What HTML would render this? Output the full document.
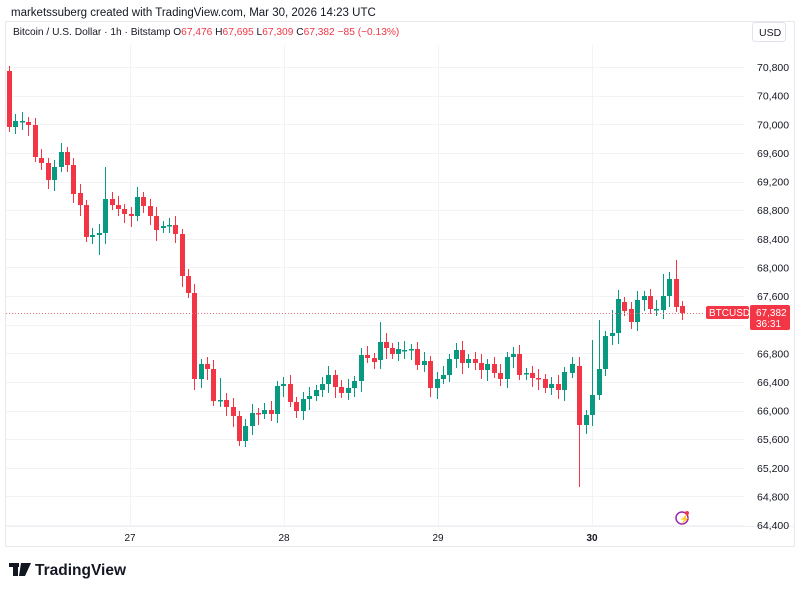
<!DOCTYPE html>
<html><head><style>
body{margin:0;background:#fff;width:800px;height:591px;overflow:hidden;font-family:"Liberation Sans",sans-serif;}
</style></head><body>
<svg width="800" height="591" xmlns="http://www.w3.org/2000/svg" font-family="Liberation Sans, sans-serif">
<text x="11" y="16" font-size="11.5" fill="#131722">marketssuberg created with TradingView.com, Mar 30, 2026 14:23 UTC</text>
<rect x="5.5" y="21.5" width="789" height="525" fill="#fff" stroke="#e6e8ee"/>
<text x="13" y="35" font-size="10.2" fill="#131722">Bitcoin / U.S. Dollar · 1h · Bitstamp  <tspan>O</tspan><tspan fill="#f23645">67,476</tspan> H<tspan fill="#f23645">67,695</tspan> L<tspan fill="#f23645">67,309</tspan> C<tspan fill="#f23645">67,382</tspan> <tspan fill="#f23645">−85 (−0.13%)</tspan></text>
<rect x="752.5" y="22.5" width="33" height="19" rx="3" fill="#fff" stroke="#e0e3eb"/>
<text x="759" y="36" font-size="10.5" fill="#131722">USD</text>
<g id="grid" stroke="#f2f3f6" stroke-width="1"></g>
<line x1="6" y1="526.5" x2="794" y2="526.5" stroke="#eef0f3"/>
<g font-size="10" fill="#131722" text-anchor="middle">
<text x="130" y="541">27</text><text x="284" y="541">28</text><text x="438" y="541">29</text><text x="592" y="541" font-weight="bold">30</text>
</g>
<g id="ylab" font-size="10.5" fill="#131722"></g>
<g id="candles"></g>
<line x1="6" y1="313.5" x2="705" y2="313.5" stroke="#e8707a" stroke-dasharray="1,2" stroke-width="1"/>
<rect x="706" y="306" width="43" height="13" rx="2" fill="#f23645"/>
<text x="709" y="316" font-size="10" fill="#fff">BTCUSD</text>
<rect x="750" y="305" width="40" height="25" rx="2" fill="#f23645"/>
<text x="756" y="316" font-size="10" fill="#fff">67,382</text>
<text x="756" y="327" font-size="10" fill="#fff">36:31</text>
<circle cx="682" cy="518" r="6" fill="none" stroke="#9c27b0" stroke-width="1.5"/>
<text x="679" y="522" font-size="9" fill="#9c27b0">⚡</text>
<circle cx="687" cy="513" r="2" fill="#f23645"/>
<rect x="9" y="563" width="10" height="4" fill="#131722"/><rect x="13" y="563" width="5" height="13" fill="#131722"/>
<polygon points="21,563 31,563 25,576 19,576" fill="#131722"/>
<text x="35" y="575" font-size="15.5" font-weight="bold" fill="#131722">TradingView</text>
</svg>
<script>
const ns="http://www.w3.org/2000/svg";
const grid=document.getElementById('grid'),yl=document.getElementById('ylab'),cg=document.getElementById('candles');
function el(p,t,a){const e=document.createElementNS(ns,t);for(const k in a)e.setAttribute(k,a[k]);p.appendChild(e);return e;}
[130,284,438,592].forEach(x=>el(grid,'line',{x1:x+.5,y1:45,x2:x+.5,y2:526}));
const labs=["70,800","70,400","70,000","69,600","69,200","68,800","68,400","68,000","67,600","67,200","66,800","66,400","66,000","65,600","65,200","64,800","64,400"];
labs.forEach((l,i)=>{const y=67+i*28.625;el(grid,'line',{x1:6,y1:Math.round(y)+.5,x2:745,y2:Math.round(y)+.5});
 if(l!=="67,200"){const t=el(yl,'text',{x:757,y:y+4});t.textContent=l;}});
const d=[[9,71,127],[15,127,121],[22,121,121],[28,122,125],[35,125,157],[41,158,163],[48,163,180],[54,180,167],[61,167,152],[67,152,165],[73,165,194],[80,193,205],[86,205,237],[92,237,235],[99,235,233],[105,233,199],[112,199,205],[118,205,209],[124,209,214],[131,214,216],[137,216,197],[143,197,206],[150,206,216],[156,216,230],[163,228,226],[169,226,225],[175,225,234],[182,234,276],[188,276,293],[194,293,379],[201,379,364],[207,364,369],[213,369,401],[220,400,400],[226,400,407],[233,407,416],[239,416,441],[245,441,426],[252,426,413],[258,413,414],[264,414,410],[271,410,414],[277,414,386],[283,386,384],[290,384,402],[296,402,411],[303,411,399],[309,399,396],[316,396,390],[322,390,384],[328,384,375],[335,375,387],[341,387,393],[348,393,388],[354,388,381],[361,381,355],[367,355,358],[374,358,362],[380,360,342],[386,342,348],[392,348,354],[398,354,349],[404,350,350],[411,349,349],[417,349,365],[424,365,361],[430,361,388],[437,388,379],[443,379,375],[449,375,359],[456,359,350],[462,350,363],[468,363,359],[475,359,363],[481,363,370],[487,370,364],[494,364,373],[500,373,379],[507,379,357],[513,357,354],[519,354,375],[526,373,373],[532,373,378],[538,378,379],[545,379,388],[551,388,384],[558,384,390],[564,390,372],[572,373,364],[579,366,425],[586,425,415],[592,415,395],[599,395,369],[605,369,336],[612,336,333],[618,333,299],[624,302,311],[631,309,322],[637,322,300],[644,300,296],[650,296,309],[656,309,309],[663,310,296],[669,296,279],[676,279,307],[682,306,313]];
const hi={105:167,380:322,676:260,592:340,599:320,612:310,245:447,579:487,194:390,431:395,220:378,99:255,137:187,663:274};
d.forEach(([x,o,c],i)=>{const col=c<o?'#089981':(c>o?'#f23645':'#089981');
 const t=Math.min(o,c),b=Math.max(o,c);let h=t-5-(i%3)*2,l=b+5+(i%4)*2;
 if(hi[x]!==undefined){if(hi[x]<t)h=hi[x];else l=hi[x];}
 el(cg,'line',{x1:x+.5,y1:h,x2:x+.5,y2:l,stroke:col,'stroke-width':1});
 el(cg,'rect',{x:x-2,y:t,width:5,height:Math.max(1.5,b-t),fill:col});});
</script>
</body></html>
